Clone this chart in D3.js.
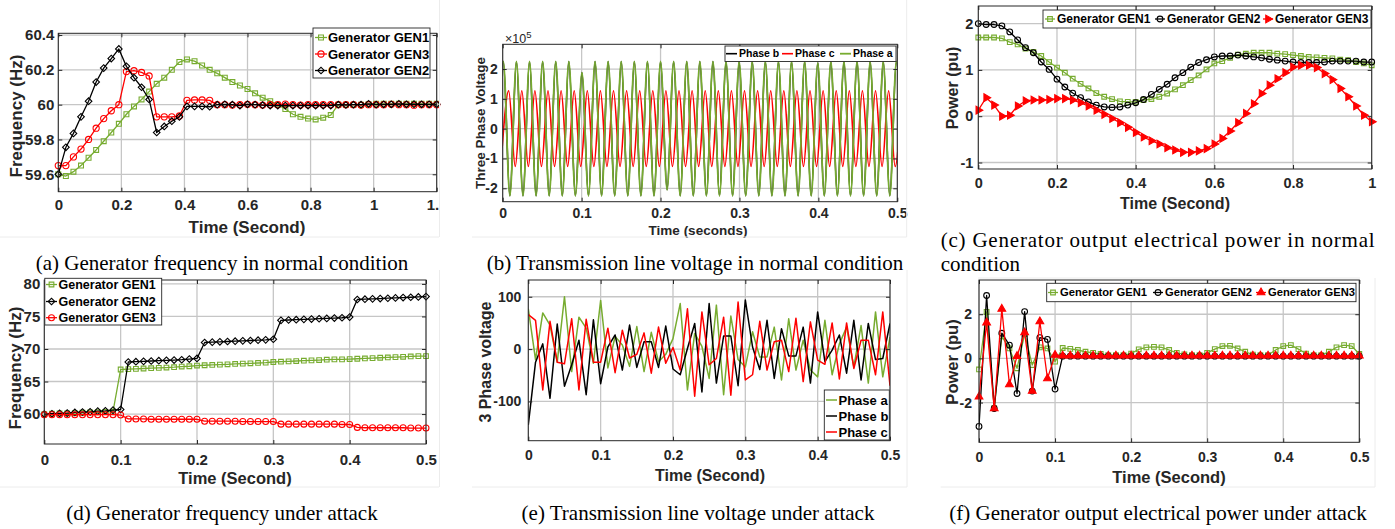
<!DOCTYPE html>
<html>
<head>
<meta charset="utf-8">
<script src="https://cdn.jsdelivr.net/npm/d3@7"></script>
<style>
  body { margin: 0; background: #fff; }
</style>
</head>
<body>
<div id="fig"></div>
<script>
// ---- data ----

// (a) frequency, normal condition (sample step 0.024 s)
const aStep = 0.024;
const aGen1 = [59.60, 59.59, 59.615, 59.65, 59.695, 59.74, 59.79, 59.84, 59.89, 59.945,
  59.99, 60.03, 60.075, 60.12, 60.155, 60.2, 60.245, 60.26, 60.25, 60.225,
  60.2, 60.18, 60.155, 60.13, 60.11, 60.09, 60.065, 60.04, 60.02, 60.0,
  59.975, 59.945, 59.93, 59.92, 59.915, 59.925, 59.94, 60.0, 60.0, 60.0,
  60.0, 60.003, 60.005, 60.005, 60.005, 60.005, 60.005, 60.005, 60.005, 60.005,
  60.005];
const aGen3 = [59.65, 59.65, 59.70, 59.745, 59.80, 59.865, 59.92, 59.965, 60.0, 60.19,
  60.195, 60.185, 60.165, 59.93, 59.93, 59.93, 59.935, 60.025, 60.027, 60.027,
  60.025, 60.0, 60.0, 59.998, 60.0, 60.002, 60.0, 59.998, 60.0, 60.0,
  60.003, 60.0, 59.998, 60.0, 60.0, 60.0, 60.0, 60.0, 60.0, 60.0,
  59.998, 60.0, 60.0, 60.0, 60.002, 60.0, 60.0, 59.997, 60.0, 60.0,
  60.0];
const aGen2 = [59.6, 59.755, 59.835, 59.93, 60.02, 60.13, 60.21, 60.265, 60.32, 60.22,
  60.155, 60.1, 60.03, 59.84, 59.875, 59.905, 59.93, 59.99, 59.99, 59.99,
  59.988, 60.0, 60.002, 60.0, 59.995, 60.002, 60.0, 59.997, 59.995, 59.995,
  59.995, 59.995, 59.995, 59.995, 59.995, 59.995, 59.995, 60.0, 59.998, 60.0,
  60.0, 60.005, 60.0, 60.002, 60.002, 60.005, 60.002, 60.003, 60.002, 60.002,
  60.002];

// (b) line voltage, normal condition: successive peaks / troughs (half period 0.0083 s)
const bHalf = 0.0083;
const bStartA = -0.0075;
const bPhaseA = [-2.25e5, 2.25e5, -2.25e5, 2.25e5, -2.25e5, 2.25e5, -2.25e5, 2.25e5, -2.25e5, 2.25e5,
  -2.25e5, 2.25e5, -2.25e5, 1.88e5, -2.25e5, 2.25e5, -2.25e5, 2.25e5, -2.25e5, 2.25e5,
  -2.25e5, 2.25e5, -2.25e5, 2.25e5, -2.25e5, 2.25e5, -2.05e5, 2.25e5, -2.25e5, 2.25e5,
  -2.25e5, 2.25e5, -2.25e5, 2.25e5, -2.25e5, 2.25e5, -2.25e5, 2.25e5, -2.25e5, 2.25e5,
  -2.25e5, 2.25e5, -2.25e5, 2.25e5, -2.25e5, 2.25e5, -2.25e5, 2.25e5, -2.25e5, 2.2e5,
  -2.25e5, 2.25e5, -2.25e5, 2.25e5, -2.25e5, 2.25e5, -2.25e5, 2.25e5, -2.25e5, 2.25e5,
  -2.25e5, 2.25e5, -2.25e5];
const bPhaseB = bPhaseA.slice(); // hidden under phase a in the figure
const bStartC = -0.0007;
const bPhaseC = [-0.64e5, 1.27e5, -1.27e5, 1.27e5, -1.27e5, 1.27e5, -1.27e5, 1.27e5, -1.27e5, 1.27e5,
  -1.27e5, 1.27e5, -1.27e5, 1.27e5, -1.27e5, 1.27e5, -1.27e5, 1.27e5, -1.27e5, 1.27e5,
  -1.27e5, 1.27e5, -1.27e5, 1.27e5, -1.27e5, 1.27e5, -1.27e5, 1.27e5, -1.27e5, 1.27e5,
  -1.27e5, 1.27e5, -1.27e5, 1.27e5, -1.27e5, 1.27e5, -1.27e5, 1.27e5, -1.27e5, 1.27e5,
  -1.27e5, 1.27e5, -1.27e5, 1.27e5, -1.27e5, 1.27e5, -1.27e5, 1.27e5, -1.27e5, 1.27e5,
  -1.27e5, 1.27e5, -1.27e5, 1.27e5, -1.27e5, 1.27e5, -1.27e5, 1.27e5, -1.27e5, 1.27e5,
  -1.27e5, 1.27e5];

// (c) output power, normal condition (step 0.02 s)
const cStep = 0.02;
const cGen1 = [1.70, 1.70, 1.70, 1.68, 1.60, 1.55, 1.46, 1.39, 1.30, 1.17,
  1.05, 0.94, 0.81, 0.70, 0.60, 0.50, 0.42, 0.37, 0.32, 0.31,
  0.31, 0.35, 0.37, 0.42, 0.49, 0.58, 0.67, 0.78, 0.88, 1.01,
  1.14, 1.19, 1.26, 1.33, 1.35, 1.37, 1.37, 1.37, 1.35, 1.34,
  1.32, 1.30, 1.28, 1.27, 1.26, 1.25, 1.22, 1.21, 1.17, 1.14,
  1.10];
const cGen2 = [2.0, 1.98, 1.98, 1.95, 1.82, 1.65, 1.48, 1.37, 1.17, 1.01,
  0.80, 0.63, 0.50, 0.40, 0.31, 0.24, 0.20, 0.19, 0.20, 0.24,
  0.29, 0.36, 0.47, 0.58, 0.69, 0.83, 0.94, 1.06, 1.16, 1.22,
  1.28, 1.30, 1.30, 1.32, 1.30, 1.28, 1.26, 1.23, 1.21, 1.19,
  1.17, 1.16, 1.16, 1.16, 1.17, 1.19, 1.19, 1.19, 1.19, 1.17,
  1.17];
const cGen3 = [0.13, 0.40, 0.24, 0.0, 0.02, 0.22, 0.33, 0.35, 0.35, 0.36,
  0.38, 0.38, 0.35, 0.29, 0.22, 0.13, 0.04, -0.05, -0.14, -0.24,
  -0.35, -0.45, -0.53, -0.60, -0.68, -0.73, -0.78, -0.78, -0.75, -0.70,
  -0.60, -0.48, -0.32, -0.14, 0.06, 0.27, 0.49, 0.67, 0.81, 0.94,
  1.06, 1.10, 1.10, 1.05, 0.92, 0.79, 0.60, 0.42, 0.22, 0.02,
  -0.12];

// (d) frequency under attack (step 0.01 s)
const dStep = 0.01;
const dGen1 = [60.0, 60.05, 60.1, 60.12, 60.15, 60.2, 60.25, 60.28, 60.32, 60.38,
  66.85, 66.9, 66.95, 67.0, 67.05, 67.1, 67.15, 67.2, 67.3, 67.35,
  67.45, 67.5, 67.55, 67.6, 67.65, 67.7, 67.75, 67.8, 67.85, 67.9,
  68.0, 68.05, 68.1, 68.15, 68.2, 68.25, 68.3, 68.35, 68.4, 68.4,
  68.45, 68.5, 68.55, 68.6, 68.65, 68.7, 68.75, 68.8, 68.85, 68.9,
  68.9];
const dGen2 = [60.0, 60.05, 60.1, 60.15, 60.25, 60.3, 60.35, 60.45, 60.5, 60.6,
  60.7, 68.0, 68.05, 68.1, 68.15, 68.2, 68.25, 68.3, 68.35, 68.45,
  68.55, 71.0, 71.05, 71.1, 71.15, 71.2, 71.25, 71.3, 71.35, 71.4,
  71.5, 74.4, 74.45, 74.5, 74.55, 74.6, 74.65, 74.7, 74.75, 74.8,
  74.9, 77.6, 77.65, 77.7, 77.75, 77.8, 77.85, 77.9, 77.95, 78.0,
  78.05];
const dGen3 = [59.9, 59.9, 59.9, 59.9, 59.9, 59.9, 59.9, 59.9, 59.9, 59.9,
  59.85, 59.25, 59.25, 59.25, 59.2, 59.2, 59.2, 59.2, 59.2, 59.2,
  59.2, 58.9, 58.9, 58.9, 58.9, 58.9, 58.85, 58.85, 58.85, 58.85,
  58.85, 58.45, 58.45, 58.45, 58.45, 58.45, 58.45, 58.45, 58.45, 58.4,
  58.4, 57.95, 57.9, 57.9, 57.9, 57.9, 57.9, 57.9, 57.85, 57.85,
  57.85];

// (e) line voltage under attack (step 0.01 s)
const eStep = 0.01;
const ePhaseA = [77, -20, 69, 46, -25, 100, -43, 61, 40, -27,
  93, -36, 24, 8, -33, 43, -43, 32, -24, -10,
  20, 87, -78, 30, 5, -56, 84, -87, 63, -20,
  -34, 33, -15, -15, 42, -59, 58, -40, 17, -40,
  -53, 55, -49, 10, 42, -34, 45, -65, 71, -53,
  23];
const ePhaseB = [-145, -25, 10, -94, 48, -71, -30, 17, -87, 56,
  -66, 4, 27, -40, 46, -35, 14, 14, -35, 44,
  -38, -49, 1, 49, -82, 87, -65, 25, 25, -70,
  94, 4, -39, 55, -56, 39, -13, -13, 42, -65,
  71, -24, -2, 27, -46, 55, -59, 49, -20, -18,
  49];
const ePhaseC = [66, 55, -78, 53, -25, -28, 58, -78, 57, -25,
  -25, 40, -45, 36, -17, -10, 31, -46, 42, -27,
  3, -40, 77, -90, 71, -30, -18, 61, -88, 90,
  -59, -49, 53, -40, 14, 17, -43, 59, -62, 52,
  -21, -29, 50, -57, 50, -37, 17, 17, -49, 71,
  -70];

// (f) output power under attack (step 0.01 s)
const fStep = 0.01;
const fGen1 = [-0.5, 2.1, -2.25, 1.0, 0.45, -0.45, 1.1, -0.3, 0.5, 0.45,
  -0.15, 0.47, 0.43, 0.38, 0.3, 0.25, 0.2, 0.15, 0.15, 0.15,
  0.22, 0.41, 0.5, 0.52, 0.5, 0.38, 0.25, 0.18, 0.15, 0.15,
  0.25, 0.42, 0.56, 0.57, 0.45, 0.3, 0.17, 0.15, 0.15, 0.38,
  0.56, 0.6, 0.42, 0.22, 0.15, 0.15, 0.3, 0.5, 0.6, 0.56,
  0.2];
const fGen2 = [-3.08, 2.85, -2.27, 1.14, 0.6, -1.59, 2.12, -1.48, 0.94, 0.86,
  -1.39, 0.1, 0.1, 0.1, 0.1, 0.1, 0.1, 0.1, 0.1, 0.1,
  0.1, 0.1, 0.1, 0.1, 0.1, 0.1, 0.1, 0.1, 0.1, 0.1,
  0.1, 0.1, 0.1, 0.1, 0.1, 0.1, 0.1, 0.1, 0.1, 0.1,
  0.1, 0.1, 0.1, 0.1, 0.1, 0.1, 0.1, 0.1, 0.1, 0.1,
  0.1];
const fGen3 = [-1.74, 1.62, -2.27, 2.24, -1.18, 0.1, 1.17, -1.48, 1.67, -0.91,
  0.15, 0.12, 0.12, 0.12, 0.12, 0.12, 0.12, 0.12, 0.12, 0.12,
  0.12, 0.12, 0.12, 0.12, 0.12, 0.12, 0.12, 0.12, 0.12, 0.12,
  0.12, 0.12, 0.12, 0.12, 0.12, 0.12, 0.12, 0.12, 0.12, 0.12,
  0.12, 0.12, 0.12, 0.12, 0.12, 0.12, 0.12, 0.12, 0.12, 0.12,
  0.12];

// ---- drawing ----
const GREEN = '#77ac30', RED = '#ff0000', BLACK = '#000000';
const AXIS = '#262626', GRID = '#c6c6c6';
const FONT = '"Liberation Sans", Arial, Helvetica, sans-serif';
const SERIF = '"Liberation Serif", "Times New Roman", serif';

const svg = d3.select('#fig').append('svg')
  .attr('width', 1395).attr('height', 529)
  .style('background', '#fff');

function markerPath(kind, size) {
  if (kind === 'square') return d3.symbol(d3.symbolSquare, size)();
  if (kind === 'circle') return d3.symbol(d3.symbolCircle, size)();
  if (kind === 'diamond') return d3.symbol(d3.symbolSquare, size)();
  return d3.symbol(d3.symbolTriangle, size)();
}
function markerRot(kind) {
  if (kind === 'diamond') return 45;
  if (kind === 'triRight') return 90;
  return 0;
}
function markerFill(s) {
  return (s.marker === 'triUp' || s.marker === 'triRight') ? s.color : 'none';
}

function drawMarker(g, s, px, py) {
  g.append('path')
    .attr('d', markerPath(s.marker, s.msize))
    .attr('transform', `translate(${px},${py}) rotate(${markerRot(s.marker)})`)
    .attr('fill', markerFill(s))
    .attr('stroke', s.color)
    .attr('stroke-width', 1.1);
}

function drawPanel(p) {
  const [x0, y0, x1, y1] = p.box;
  const x = d3.scaleLinear().domain(p.xDomain).range([x0, x1]);
  const y = d3.scaleLinear().domain(p.yDomain).range([y1, y0]);
  const g = svg.append('g');

  svg.append('clipPath').attr('id', 'clip-' + p.name)
    .append('rect').attr('x', x0).attr('y', y0).attr('width', x1 - x0).attr('height', y1 - y0);

  // grid
  g.append('g').selectAll('line').data(p.xTicks).join('line')
    .attr('x1', d => x(d)).attr('x2', d => x(d)).attr('y1', y0).attr('y2', y1)
    .attr('stroke', GRID).attr('stroke-width', 1.3);
  g.append('g').selectAll('line').data(p.yTicks).join('line')
    .attr('y1', d => y(d)).attr('y2', d => y(d)).attr('x1', x0).attr('x2', x1)
    .attr('stroke', GRID).attr('stroke-width', 1.3);

  // series
  p.series.forEach(s => {
    const pts = s.values.map((v, i) => [s.t0 + i * s.step, v]);
    const line = d3.line().x(d => x(d[0])).y(d => y(d[1])).curve(s.curve || d3.curveLinear);
    g.append('path').datum(pts)
      .attr('clip-path', `url(#clip-${p.name})`)
      .attr('d', line)
      .attr('fill', 'none')
      .attr('stroke', s.color)
      .attr('stroke-width', s.width || 1.3)
      .attr('stroke-linejoin', 'round');
    if (s.marker) {
      const mg = g.append('g');
      pts.filter(d => d[0] <= p.xDomain[1] + 1e-9).forEach(d => drawMarker(mg, s, x(d[0]), y(d[1])));
    }
  });

  // axes
  g.append('g').attr('transform', `translate(0,${y1})`)
    .call(d3.axisBottom(x).tickValues(p.xTicks).tickFormat(d => String(d))
      .tickSizeInner(-4).tickSizeOuter(0).tickPadding(p.xPad));
  g.append('g').attr('transform', `translate(${x0},0)`)
    .call(d3.axisLeft(y).tickValues(p.yTicks).tickFormat(p.yFmt || (d => String(d)))
      .tickSizeInner(-4).tickSizeOuter(0).tickPadding(p.yPad));
  g.append('g').attr('transform', `translate(0,${y0})`)
    .call(d3.axisTop(x).tickValues(p.xTicks).tickFormat(() => '').tickSizeInner(-4).tickSizeOuter(0));
  g.append('g').attr('transform', `translate(${x1},0)`)
    .call(d3.axisRight(y).tickValues(p.yTicks).tickFormat(() => '').tickSizeInner(-4).tickSizeOuter(0));
  g.selectAll('.domain').remove();
  g.selectAll('.tick line').attr('stroke', AXIS);
  g.selectAll('.tick text')
    .attr('font-family', FONT).attr('font-size', p.tickFont)
    .attr('font-weight', 'bold').attr('fill', AXIS);

  // box
  g.append('rect').attr('x', x0).attr('y', y0).attr('width', x1 - x0).attr('height', y1 - y0)
    .attr('fill', 'none').attr('stroke', AXIS).attr('stroke-width', 1);

  // axis labels
  g.append('text')
    .attr('x', p.xLabelPos[0]).attr('y', p.xLabelPos[1]).attr('dy', '0.35em')
    .attr('text-anchor', 'middle')
    .attr('font-family', FONT).attr('font-size', p.labelFont).attr('font-weight', 'bold').attr('fill', AXIS)
    .text(p.xLabel);
  g.append('text')
    .attr('transform', `translate(${p.yLabelPos[0]},${p.yLabelPos[1]}) rotate(-90)`)
    .attr('dy', '0.35em')
    .attr('text-anchor', 'middle')
    .attr('font-family', FONT).attr('font-size', p.yLabelFont || p.labelFont).attr('font-weight', 'bold').attr('fill', AXIS)
    .text(p.yLabel);

  // legend
  const L = p.legend;
  const lg = g.append('g');
  lg.append('rect')
    .attr('x', L.box[0]).attr('y', L.box[1])
    .attr('width', L.box[2] - L.box[0]).attr('height', L.box[3] - L.box[1])
    .attr('fill', '#fff').attr('stroke', AXIS).attr('stroke-width', 0.9);
  L.items.forEach(it => {
    const s = p.series[it.i];
    lg.append('line')
      .attr('x1', it.sx).attr('x2', it.ex).attr('y1', it.ty).attr('y2', it.ty)
      .attr('stroke', s.color).attr('stroke-width', s.width || 1.3);
    if (s.marker) drawMarker(lg, s, (it.sx + it.ex) / 2, it.ty);
    lg.append('text')
      .attr('x', it.tx).attr('y', it.ty).attr('dy', '0.35em')
      .attr('font-family', FONT).attr('font-size', L.font).attr('font-weight', 'bold').attr('fill', '#000')
      .text(s.name);
  });
  return { x, y, g };
}

// (a)
drawPanel({
  name: 'a', box: [58.3, 33.3, 436.7, 191.7], xDomain: [0, 1.2], yDomain: [59.5, 60.41],
  xTicks: [0, 0.2, 0.4, 0.6, 0.8, 1, 1.2], yTicks: [59.6, 59.8, 60, 60.2, 60.4],
  tickFont: 15, xPad: 8, yPad: 4, labelFont: 17,
  xLabel: 'Time (Second)', xLabelPos: [247, 227],
  yLabel: 'Frequency (Hz)', yLabelPos: [16, 116],
  series: [
    { name: 'Generator GEN1', values: aGen1, t0: 0, step: aStep, color: GREEN, marker: 'square', msize: 24 },
    { name: 'Generator GEN3', values: aGen3, t0: 0, step: aStep, color: RED, marker: 'circle', msize: 30 },
    { name: 'Generator GEN2', values: aGen2, t0: 0, step: aStep, color: BLACK, marker: 'diamond', msize: 22 }
  ],
  legend: { box: [313, 28, 430, 78], font: 13, items: [
    { i: 0, sx: 315, ex: 327, tx: 328, ty: 37.5 },
    { i: 1, sx: 315, ex: 327, tx: 328, ty: 54 },
    { i: 2, sx: 315, ex: 327, tx: 328, ty: 70.5 }
  ] }
});
// the source image is cropped just after the last tick label
svg.append('rect').attr('x', 439.5).attr('y', 192).attr('width', 25).attr('height', 30).attr('fill', '#fff');

// (b)
drawPanel({
  name: 'b', box: [502.7, 44.3, 897.3, 201.7], xDomain: [0, 0.5], yDomain: [-2.45e5, 2.83e5],
  xTicks: [0, 0.1, 0.2, 0.3, 0.4, 0.5], yTicks: [-2e5, -1e5, 0, 1e5, 2e5],
  yFmt: d => String(d / 1e5),
  tickFont: 14, xPad: 6, yPad: 5, labelFont: 13.5,
  xLabel: 'Time (seconds)', xLabelPos: [698, 230],
  yLabel: 'Three Phase Voltage', yLabelPos: [480, 123],
  series: [
    { name: 'Phase b', values: bPhaseB, t0: bStartA, step: bHalf, color: BLACK, width: 1.6, curve: d3.curveMonotoneX },
    { name: 'Phase c', values: bPhaseC, t0: bStartC, step: bHalf, color: RED, width: 1.6, curve: d3.curveMonotoneX },
    { name: 'Phase a', values: bPhaseA, t0: bStartA, step: bHalf, color: GREEN, width: 1.8, curve: d3.curveMonotoneX }
  ],
  legend: { box: [725, 46, 896, 61.5], font: 10.5, items: [
    { i: 0, sx: 726, ex: 737, tx: 739, ty: 53.7 },
    { i: 1, sx: 782, ex: 793, tx: 795, ty: 53.7 },
    { i: 2, sx: 840, ex: 851, tx: 853, ty: 53.7 }
  ] }
});
const mult = svg.append('text').attr('x', 505).attr('y', 43)
  .attr('font-family', FONT).attr('font-size', 12.5).attr('fill', AXIS);
mult.append('tspan').text('×10');
mult.append('tspan').attr('dy', -5).attr('font-size', 9.5).text('5');

// (c)
drawPanel({
  name: 'c', box: [978.3, 6, 1371.7, 169], xDomain: [0, 1], yDomain: [-1.14, 2.38],
  xTicks: [0, 0.2, 0.4, 0.6, 0.8, 1], yTicks: [-1, 0, 1, 2],
  tickFont: 14.5, xPad: 9, yPad: 5, labelFont: 16,
  xLabel: 'Time (Second)', xLabelPos: [1175, 203],
  yLabel: 'Power (pu)', yLabelPos: [952, 88],
  series: [
    { name: 'Generator GEN1', values: cGen1, t0: 0, step: cStep, color: GREEN, marker: 'square', msize: 22 },
    { name: 'Generator GEN2', values: cGen2, t0: 0, step: cStep, color: BLACK, marker: 'circle', msize: 26 },
    { name: 'Generator GEN3', values: cGen3, t0: 0, step: cStep, color: RED, marker: 'triRight', msize: 26 }
  ],
  legend: { box: [1043, 10, 1371, 28], font: 12, items: [
    { i: 0, sx: 1045, ex: 1055, tx: 1057, ty: 19 },
    { i: 1, sx: 1155, ex: 1165, tx: 1167, ty: 19 },
    { i: 2, sx: 1263, ex: 1273, tx: 1275, ty: 19 }
  ] }
});

// (d)
drawPanel({
  name: 'd', box: [44.3, 280, 426, 444], xDomain: [0, 0.5], yDomain: [55.4, 80.6],
  xTicks: [0, 0.1, 0.2, 0.3, 0.4, 0.5], yTicks: [60, 65, 70, 75, 80],
  tickFont: 15, xPad: 10, yPad: 4, labelFont: 16.5, yLabelFont: 17,
  xLabel: 'Time (Second)', xLabelPos: [235, 478],
  yLabel: 'Frequency (Hz)', yLabelPos: [15, 368],
  series: [
    { name: 'Generator GEN1', values: dGen1, t0: 0, step: dStep, color: GREEN, marker: 'square', msize: 22 },
    { name: 'Generator GEN2', values: dGen2, t0: 0, step: dStep, color: BLACK, marker: 'diamond', msize: 22 },
    { name: 'Generator GEN3', values: dGen3, t0: 0, step: dStep, color: RED, marker: 'circle', msize: 28 }
  ],
  legend: { box: [44.8, 278.3, 161.7, 325], font: 12.5, items: [
    { i: 0, sx: 46, ex: 57, tx: 58.5, ty: 284.5 },
    { i: 1, sx: 46, ex: 57, tx: 58.5, ty: 301.5 },
    { i: 2, sx: 46, ex: 57, tx: 58.5, ty: 317.7 }
  ] }
});

// (e)
drawPanel({
  name: 'e', box: [528.3, 280, 890, 440.7], xDomain: [0, 0.5], yDomain: [-175, 132],
  xTicks: [0, 0.1, 0.2, 0.3, 0.4, 0.5], yTicks: [-100, 0, 100],
  tickFont: 14, xPad: 9, yPad: 7, labelFont: 16, yLabelFont: 16,
  xLabel: 'Time (Second)', xLabelPos: [710, 475],
  yLabel: '3 Phase voltage', yLabelPos: [485, 362],
  series: [
    { name: 'Phase a', values: ePhaseA, t0: 0, step: eStep, color: GREEN, width: 1.5 },
    { name: 'Phase b', values: ePhaseB, t0: 0, step: eStep, color: BLACK, width: 1.5 },
    { name: 'Phase c', values: ePhaseC, t0: 0, step: eStep, color: RED, width: 1.5 }
  ],
  legend: { box: [824.3, 390, 889.3, 440], font: 13, items: [
    { i: 0, sx: 826, ex: 837, tx: 838.5, ty: 400 },
    { i: 1, sx: 826, ex: 837, tx: 838.5, ty: 416 },
    { i: 2, sx: 826, ex: 837, tx: 838.5, ty: 432 }
  ] }
});

// (f)
drawPanel({
  name: 'f', box: [979, 280, 1359.3, 442.3], xDomain: [0, 0.5], yDomain: [-3.8, 3.55],
  xTicks: [0, 0.1, 0.2, 0.3, 0.4, 0.5], yTicks: [-2, 0, 2],
  tickFont: 14, xPad: 10, yPad: 7, labelFont: 16.5,
  xLabel: 'Time (Second)', xLabelPos: [1169, 477],
  yLabel: 'Power (pu)', yLabelPos: [952, 362],
  series: [
    { name: 'Generator GEN1', values: fGen1, t0: 0, step: fStep, color: GREEN, marker: 'square', msize: 22 },
    { name: 'Generator GEN2', values: fGen2, t0: 0, step: fStep, color: BLACK, marker: 'circle', msize: 26 },
    { name: 'Generator GEN3', values: fGen3, t0: 0, step: fStep, color: RED, marker: 'triUp', msize: 26 }
  ],
  legend: { box: [1046.7, 283.3, 1356, 301.7], font: 11.2, items: [
    { i: 0, sx: 1048, ex: 1058, tx: 1060, ty: 292.5 },
    { i: 1, sx: 1153, ex: 1163, tx: 1165, ty: 292.5 },
    { i: 2, sx: 1256, ex: 1266, tx: 1268, ty: 292.5 }
  ] }
});

// faint edges of the sub-figure images
const edges = [
  [0, 237, 439, 237], [439.5, 0, 439.5, 237],
  [906.7, 0, 906.7, 237], [472, 237, 906.7, 237],
  [0, 487, 439, 487], [439.5, 270, 439.5, 487],
  [472, 487, 907, 487], [907, 270, 907, 487],
  [940.7, 487, 1375, 487], [1375, 278, 1375, 487], [978, 278, 1360, 278]
];
svg.append('g').selectAll('line').data(edges).join('line')
  .attr('x1', d => d[0]).attr('y1', d => d[1]).attr('x2', d => d[2]).attr('y2', d => d[3])
  .attr('stroke', '#ececec').attr('stroke-width', 1);

// captions
const CAP = 21;
function caption(txt, cx, by) {
  svg.append('text').attr('x', cx).attr('y', by).attr('text-anchor', 'middle')
    .attr('font-family', SERIF).attr('font-size', CAP).attr('fill', '#000').text(txt);
}
caption('(a) Generator frequency in normal condition', 222, 270);
caption('(b) Transmission line voltage in normal condition', 695, 270);
svg.append('text').attr('x', 940.7).attr('y', 247).attr('textLength', 434).attr('lengthAdjust', 'spacing')
  .attr('font-family', SERIF).attr('font-size', CAP).attr('fill', '#000')
  .text('(c) Generator output electrical power in normal');
svg.append('text').attr('x', 940.7).attr('y', 271)
  .attr('font-family', SERIF).attr('font-size', CAP).attr('fill', '#000').text('condition');
caption('(d) Generator frequency under attack', 222, 520);
caption('(e) Transmission line voltage under attack', 698, 520);
caption('(f) Generator output electrical power under attack', 1158, 520);
</script>
</body>
</html>
